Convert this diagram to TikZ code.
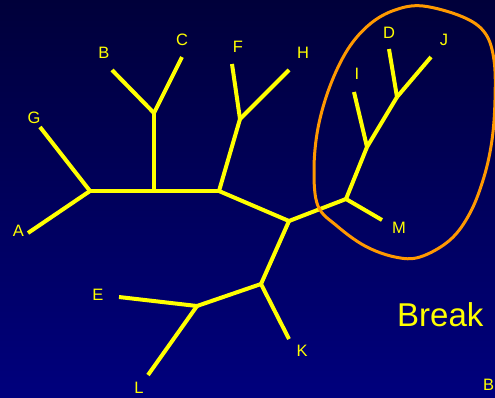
\documentclass[tikz,border=0pt]{standalone}
\usepackage{fontspec}
\setmainfont{Liberation Sans}
\definecolor{treeyellow}{RGB}{255,255,0}
\definecolor{ringorange}{RGB}{255,153,0}
\definecolor{bgtop}{RGB}{0,0,58}
\definecolor{bgbottom}{RGB}{0,0,125}
\begin{document}
\begin{tikzpicture}[x=1pt,y=-1pt,
  branch/.style={draw=treeyellow,line width=4pt,line join=round},
  leaflabel/.style={text=treeyellow,font=\fontsize{16.5}{18}\selectfont,inner sep=0pt},
  bigtext/.style={text=treeyellow,font=\fontsize{33}{36}\selectfont,inner sep=0pt},
  ring/.style={draw=ringorange,line width=3pt}
]
\useasboundingbox (0,0) rectangle (495,397);
\shade[top color=bgtop,bottom color=bgbottom] (0,0) rectangle (495,397);

% tree points
\coordinate (a) at (28,233);
\coordinate (n1) at (90,191);
\coordinate (g) at (40,127);
\coordinate (n2) at (154,191);
\coordinate (n3) at (154,113);
\coordinate (b) at (112,70);
\coordinate (c) at (182,57);
\coordinate (n4) at (219,191);
\coordinate (n5) at (240,119);
\coordinate (f) at (232,64);
\coordinate (h) at (289,70);
\coordinate (n6) at (289,221);
\coordinate (n7) at (346,199);
\coordinate (m) at (382,220);
\coordinate (n8) at (367,147);
\coordinate (i) at (354,92);
\coordinate (n9) at (397,97);
\coordinate (d) at (389,49);
\coordinate (j) at (431,57);
\coordinate (n10) at (261,284);
\coordinate (k) at (289,339);
\coordinate (n11) at (197,306);
\coordinate (e) at (119,297);
\coordinate (l) at (148,375);

% branches
\draw[branch] (a) -- (n1);
\draw[branch] (g) -- (n1);
\draw[branch] (n1) -- (n2);
\draw[branch] (n2) -- (n3);
\draw[branch] (b) -- (n3);
\draw[branch] (c) -- (n3);
\draw[branch] (n2) -- (n4);
\draw[branch] (n4) -- (n5);
\draw[branch] (f) -- (n5);
\draw[branch] (h) -- (n5);
\draw[branch] (n4) -- (n6);
\draw[branch] (n6) -- (n7);
\draw[branch] (n7) -- (m);
\draw[branch] (n7) -- (n8);
\draw[branch] (i) -- (n8);
\draw[branch] (n8) -- (n9);
\draw[branch] (d) -- (n9);
\draw[branch] (n9) -- (j);
\draw[branch] (n6) -- (n10);
\draw[branch] (n10) -- (k);
\draw[branch] (n10) -- (n11);
\draw[branch] (e) -- (n11);
\draw[branch] (n11) -- (l);

% labels
\node[leaflabel] (la) at (18.5,231) {A};
\node[leaflabel] (lg) at (34,118) {G};
\node[leaflabel] (lb) at (104,53) {B};
\node[leaflabel] (lc) at (182,40) {C};
\node[leaflabel] (lf) at (238,47) {F};
\node[leaflabel] (lh) at (303,53) {H};
\node[leaflabel] (li) at (357,74) {I};
\node[leaflabel] (ld) at (389,33) {D};
\node[leaflabel] (lj) at (444,40) {J};
\node[leaflabel] (lm) at (399,228) {M};
\node[leaflabel] (lk) at (302,351) {K};
\node[leaflabel] (le) at (98,295) {E};
\node[leaflabel] (ll) at (139,388) {L};

\node[bigtext,anchor=base west] (brk) at (397,326) {Break};
\node[leaflabel,anchor=base west] (bb) at (483,390) {B};

% highlighted clade
\draw[ring] plot[smooth cycle,tension=0.6] coordinates {
  (423,6) (463,17) (485,33) (494,60) (495,100) (492,140) (484,177)
  (470,213) (450,240) (420,257) (395,257) (365,246) (337,226)
  (318,206) (314,170) (318,128) (330,86) (348,49) (370,24) (395,10)};
\end{tikzpicture}
\end{document}
